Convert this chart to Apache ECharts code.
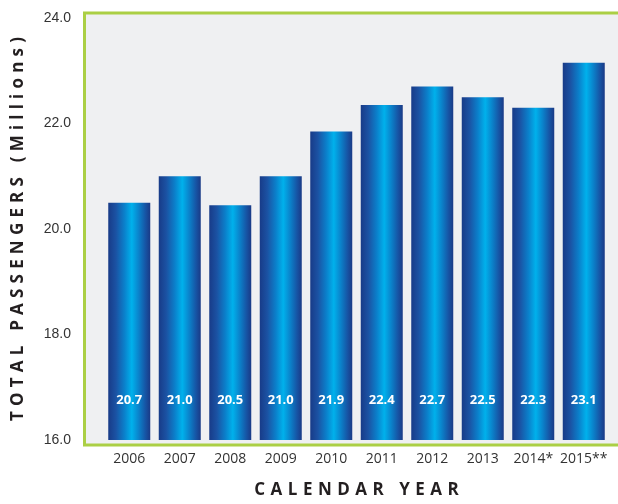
<!DOCTYPE html>
<html>
<head>
<meta charset="utf-8">
<script src="https://cdn.jsdelivr.net/npm/echarts@6/dist/echarts.min.js"></script>
<style>
html,body{margin:0;padding:0;background:#fff;}
#chart{width:618px;height:504px;}
</style>
</head>
<body>
<div id="chart"></div>
<script>
// ---- data ----
var categories = ['2006', '2007', '2008', '2009', '2010', '2011', '2012', '2013', '2014*', '2015**'];
// bar heights as drawn in the picture
var passengers = [20.5, 21.0, 20.45, 21.0, 21.85, 22.35, 22.7, 22.5, 22.3, 23.15];
// printed value labels
var valueLabels = ['20.7', '21.0', '20.5', '21.0', '21.9', '22.4', '22.7', '22.5', '22.3', '23.1'];
var yTicks = { min: 16, max: 24, interval: 2 };
var xTitle = 'CALENDAR YEAR';
var yTitle = 'TOTAL PASSENGERS (Millions)';

// extra letter spacing (px) for the spaced-out axis titles
var SPACING = {};
SPACING[xTitle] = 5.5;
SPACING[yTitle] = 5.2;
(function () {
  var proto = CanvasRenderingContext2D.prototype;
  var orig = proto.fillText;
  proto.fillText = function (t, x, y) {
    var sp = SPACING[t];
    if (sp === undefined) return orig.apply(this, arguments);
    var chars = Array.from(t);
    var self = this;
    var widths = chars.map(function (c) { return self.measureText(c).width; });
    var total = widths.reduce(function (a, b) { return a + b; }, 0) + sp * (chars.length - 1);
    var align = this.textAlign;
    var start = x;
    if (align === 'center') start = x - total / 2;
    else if (align === 'right' || align === 'end') start = x - total;
    this.textAlign = 'left';
    var cx = start;
    for (var i = 0; i < chars.length; i++) {
      orig.call(this, chars[i], cx, y);
      cx += widths[i] + sp;
    }
    this.textAlign = align;
  };
})();

var chart = echarts.init(document.getElementById('chart'), null, { renderer: 'canvas' });

var barGradient = new echarts.graphic.LinearGradient(0, 0, 1, 0, [
  { offset: 0, color: '#183b88' },
  { offset: 0.18, color: '#1b52a3' },
  { offset: 0.38, color: '#0b7fca' },
  { offset: 0.56, color: '#00b1ec' },
  { offset: 0.72, color: '#0a84cc' },
  { offset: 0.88, color: '#1656a6' },
  { offset: 1, color: '#1a3a86' }
]);

var option = {
  backgroundColor: '#ffffff',
  animation: false,
  graphic: [{
    type: 'rect',
    z: -10,
    silent: true,
    shape: { x: 84.5, y: 13, width: 545, height: 432 },
    style: { fill: '#eff0f2', stroke: '#abcf45', lineWidth: 3 }
  }],
  grid: { left: 104, right: 9, top: 18, bottom: 62, containLabel: false },
  xAxis: {
    type: 'category',
    data: categories,
    axisLine: { show: false },
    axisTick: { show: false },
    axisLabel: { color: '#333', fontFamily: 'Open Sans', fontSize: 14, margin: 12, interval: 0 },
    name: xTitle,
    nameLocation: 'middle',
    nameGap: 42,
    nameTextStyle: { color: '#231f20', fontFamily: 'Open Sans', fontWeight: 'bold', fontSize: 17 }
  },
  yAxis: {
    type: 'value',
    min: yTicks.min,
    max: yTicks.max,
    interval: yTicks.interval,
    axisLine: { show: false },
    axisTick: { show: false },
    splitLine: { show: false },
    axisLabel: {
      color: '#333', fontFamily: 'Liberation Sans', fontSize: 14, margin: 33,
      formatter: function (v) { return v.toFixed(1); }
    },
    name: yTitle,
    nameLocation: 'middle',
    nameRotate: 90,
    nameGap: 77,
    nameTextStyle: { color: '#231f20', fontFamily: 'Open Sans', fontWeight: 'bold', fontSize: 17 }
  },
  series: [{
    type: 'bar',
    data: passengers,
    barWidth: 42,
    itemStyle: { color: barGradient },
    label: {
      show: true,
      position: 'insideBottom',
      distance: 33,
      color: '#ffffff',
      fontFamily: 'Open Sans',
      fontWeight: 'bold',
      fontSize: 13,
      formatter: function (p) { return valueLabels[p.dataIndex]; }
    }
  }]
};
chart.setOption(option);
</script>
</body>
</html>
